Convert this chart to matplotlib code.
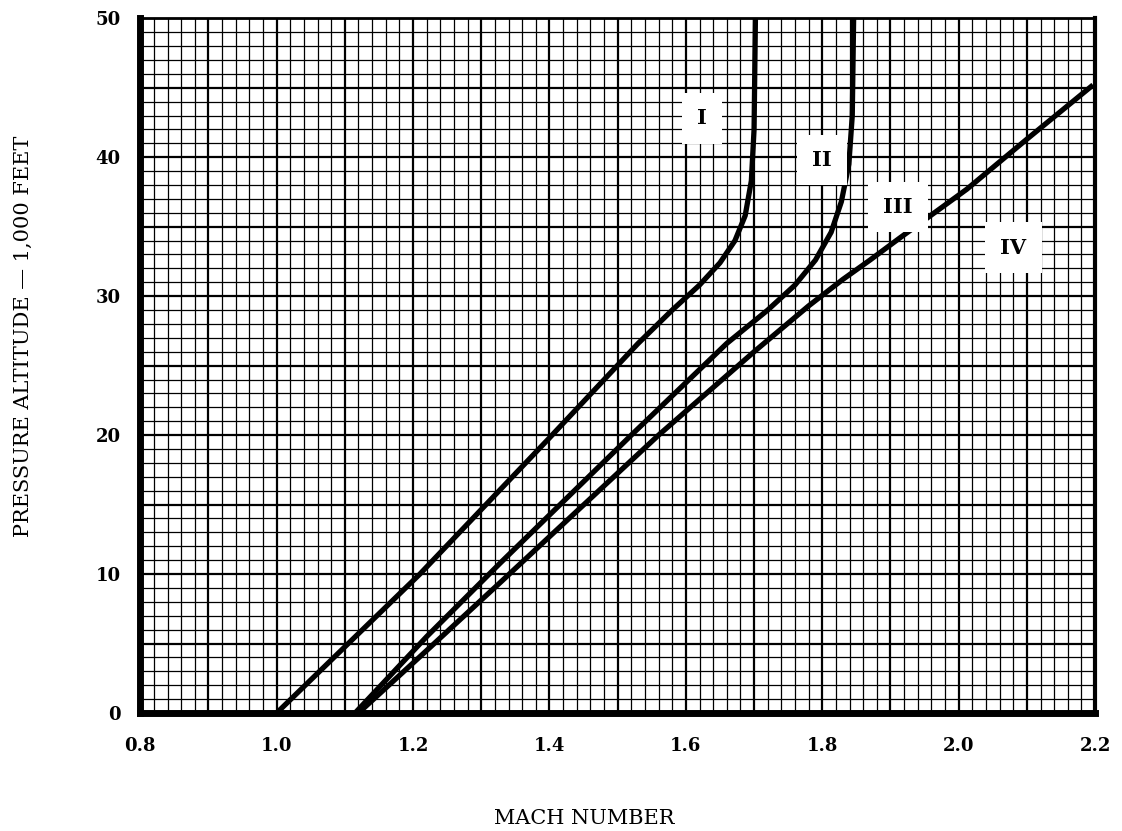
import matplotlib.pyplot as plt
import numpy as np

# curve I
mach_1 = [1.00, 1.21, 1.40, 1.53, 1.58, 1.62, 1.65, 1.672, 1.687, 1.696, 1.70, 1.702]
alt_1 = [0, 10.0, 19.8, 26.6, 29.0, 30.8, 32.4, 34.0, 35.8, 38.3, 42.0, 50.0]
# curve II
mach_2 = [1.115, 1.22, 1.328, 1.52, 1.66, 1.72, 1.76, 1.79, 1.813, 1.828, 1.839, 1.844, 1.846]
alt_2 = [0, 5.5, 10.8, 20.0, 26.6, 29.0, 30.8, 32.6, 34.6, 36.8, 39.5, 43.0, 50.0]
# curve III
mach_3 = [1.12, 1.22, 1.328, 1.56, 1.70, 1.78, 1.83, 1.87, 1.914, 2.012, 2.10, 2.197]
alt_3 = [0, 4.5, 9.4, 20.0, 26.0, 29.3, 31.2, 32.6, 34.2, 37.7, 41.3, 45.2]

labels = ['I', 'II', 'III', 'IV']
label_mach = [1.624, 1.80, 1.911, 2.08]
label_alt = [42.8, 39.8, 36.4, 33.5]

x_ticks = [0.8, 1.0, 1.2, 1.4, 1.6, 1.8, 2.0, 2.2]
y_ticks = [0, 10, 20, 30, 40, 50]


def main():
    plt.rcParams['font.family'] = ['DejaVu Serif']
    fig = plt.figure(figsize=(11.22, 8.31), dpi=100)
    ax = fig.add_axes([0.125, 0.142, 0.851, 0.836])

    ax.set_xlim(0.8, 2.2)
    ax.set_ylim(0, 50)

    # graph paper
    for x in np.arange(0.8, 2.2001, 0.02):
        heavy = abs(x * 10 - round(x * 10)) < 1e-6
        ax.axvline(x, color='black', lw=1.6 if heavy else 0.9, zorder=1)
    for y in np.arange(0, 50.001, 1):
        heavy = int(round(y)) % 5 == 0
        ax.axhline(y, color='black', lw=1.6 if heavy else 0.9, zorder=1)

    for m, a in [(mach_1, alt_1), (mach_2, alt_2), (mach_3, alt_3)]:
        ax.plot(m, a, color='black', lw=3.8, solid_capstyle='butt', zorder=3)

    for t, m, a in zip(labels, label_mach, label_alt):
        ax.text(m, a, t, ha='center', va='center', fontsize=15, fontweight='bold',
                zorder=4, bbox=dict(facecolor='white', edgecolor='none', pad=11))

    ax.set_xticks(x_ticks)
    ax.set_xticklabels([f'{v:.1f}' for v in x_ticks])
    ax.set_yticks(y_ticks)
    ax.tick_params(length=0, labelsize=13)
    ax.tick_params(axis='x', pad=17)
    ax.tick_params(axis='y', pad=14)
    for lab in ax.get_xticklabels() + ax.get_yticklabels():
        lab.set_fontweight('bold')

    ax.spines['left'].set_linewidth(5)
    ax.spines['bottom'].set_linewidth(5)
    ax.spines['top'].set_linewidth(2)
    ax.spines['right'].set_linewidth(3)
    for s in ax.spines.values():
        s.set_zorder(5)

    ax.set_xlabel('MACH NUMBER', fontsize=15)
    ax.set_ylabel('PRESSURE ALTITUDE — 1,000 FEET', fontsize=15)
    ax.xaxis.label.set_va('center')
    ax.yaxis.label.set_va('center')
    ax.xaxis.set_label_coords(0.465, -0.152)
    ax.yaxis.set_label_coords(-0.122, 0.542)

    fig.savefig('out.png', dpi=100)


if __name__ == "__main__":
    main()
